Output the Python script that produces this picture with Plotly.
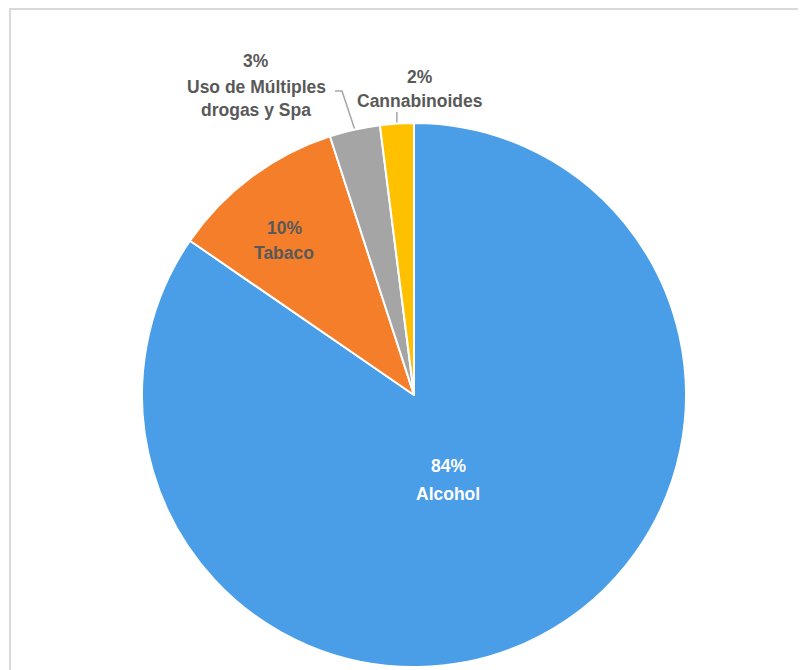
import math
import plotly.graph_objects as go

# ---- data ----
categories = ["Alcohol", "Tabaco", "Uso de Múltiples drogas y Spa", "Cannabinoides"]
values = [84.6, 10.4, 3.0, 2.0]
pct_labels = ["84%", "10%", "3%", "2%"]
label_lines = [["Alcohol"], ["Tabaco"], ["Uso de Múltiples", "drogas y Spa"], ["Cannabinoides"]]
colors = ["#4A9DE7", "#F47E2A", "#A5A5A5", "#FFC000"]

# ---- layout geometry (pixels in page; page body has an 8px offset) ----
W, H = 806, 670
OFF = 8
CX, CY, R = 414, 395, 272

def px(x):
    return (x - OFF) / W

def py(y):
    return 1 - (y - OFF) / H

fig = go.Figure(go.Pie(
    labels=categories,
    values=values,
    sort=False,
    direction="clockwise",
    rotation=0,
    marker=dict(colors=colors, line=dict(color="white", width=2)),
    textinfo="none",
    hoverinfo="label+percent",
    showlegend=False,
    domain=dict(x=[px(CX - R), px(CX + R)], y=[py(CY + R), py(CY - R)]),
))

FONT = "Liberation Sans, Arial, sans-serif"
DARK = "#595959"
FS = 17.5

# label text positions (pixel centres) for each slice
label_pos = [
    dict(x=448, ys=[466, 494], color="white"),
    dict(x=284, ys=[228, 253], color=DARK),
    dict(x=256, ys=[61, 87, 110], color=DARK),
    dict(x=420, ys=[77, 101], color=DARK),
]

annotations = []
for i, pos in enumerate(label_pos):
    lines = [pct_labels[i]] + label_lines[i]
    for txt, yy in zip(lines, pos["ys"]):
        annotations.append(dict(
            x=px(pos["x"]), y=py(yy), xref="paper", yref="paper",
            text="<b>%s</b>" % txt, showarrow=False,
            xanchor="center", yanchor="middle",
            font=dict(family=FONT, size=FS, color=pos["color"]),
        ))

# leader lines computed from slice mid-angles
total = sum(values)
cum = 0.0
mids = []
for v in values:
    mids.append((cum + v / 2) / total)
    cum += v

def edge_point(frac, r):
    ang = 2 * math.pi * frac
    return CX + r * math.sin(ang), CY - r * math.cos(ang)

shapes = []
# gray slice leader (elbow)
gx, gy = edge_point(mids[2], R + 1)
shapes.append(dict(
    type="path", xref="paper", yref="paper",
    path="M %f,%f L %f,%f L %f,%f" % (px(335), py(91), px(342), py(91), px(gx), py(gy)),
    line=dict(color="#A6A6A6", width=1.5),
))
# yellow slice leader (vertical)
yx, yy_ = edge_point(mids[3], R + 1)
shapes.append(dict(
    type="line", xref="paper", yref="paper",
    x0=px(yx), y0=py(112), x1=px(yx), y1=py(yy_),
    line=dict(color="#A6A6A6", width=1.5),
))
# chart border
shapes.append(dict(
    type="rect", xref="paper", yref="paper",
    x0=px(10), y0=-0.05, x1=1.05, y1=py(9),
    line=dict(color="#D9D9D9", width=2), fillcolor="rgba(0,0,0,0)",
))

fig.update_layout(
    width=W, height=H,
    margin=dict(l=0, r=0, t=0, b=0),
    paper_bgcolor="white",
    plot_bgcolor="white",
    annotations=annotations,
    shapes=shapes,
)

fig.write_html("out.html")
